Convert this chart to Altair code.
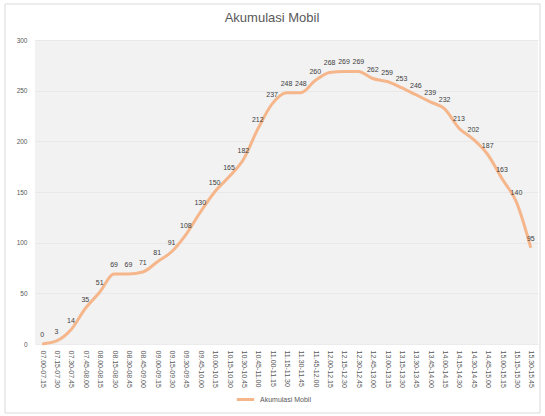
import altair as alt
import pandas as pd

# Parking accumulation per 15-minute interval
start_times = [
    "07.00", "07.15", "07.30", "07.45", "08.00", "08.15", "08.30", "08.45",
    "09.00", "09.15", "09.30", "09.45", "10.00", "10.15", "10.30", "10.45",
    "11.00", "11.15", "11.30", "11.45", "12.00", "12.15", "12.30", "12.45",
    "13.00", "13.15", "13.30", "13.45", "14.00", "14.15", "14.30", "14.45",
    "15.00", "15.15", "15.30",
]
end_times = start_times[1:] + ["15.45"]
intervals = [f"{a}-{b}" for a, b in zip(start_times, end_times)]

accumulation = [
    0, 3, 14, 35, 51, 69, 69, 71, 81, 91, 108, 130, 150, 165, 182, 212, 237,
    248, 248, 260, 268, 269, 269, 262, 259, 253, 246, 239, 232, 213, 202, 187,
    163, 140, 95,
]

series_name = "Akumulasi Mobil"
chart_title = "Akumulasi Mobil"

df = pd.DataFrame({
    "Interval": intervals,
    "Akumulasi": accumulation,
    "Seri": [series_name] * len(intervals),
})

LINE_COLOR = "#F5B68C"
TEXT_COLOR = "#595959"
FONT = "Liberation Sans"

x_enc = alt.X(
    "Interval:O",
    sort=None,
    title=None,
    axis=alt.Axis(
        labelAngle=90,
        labelFontSize=7,
        labelColor=TEXT_COLOR,
        labelFont=FONT,
        labelPadding=6,
        ticks=False,
        domain=False,
        grid=False,
        labelOverlap=False,
    ),
)
y_enc = alt.Y(
    "Akumulasi:Q",
    title=None,
    scale=alt.Scale(domain=[0, 300], nice=False),
    axis=alt.Axis(
        values=[0, 50, 100, 150, 200, 250, 300],
        labelFontSize=6.5,
        labelColor=TEXT_COLOR,
        labelFont=FONT,
        labelPadding=8,
        ticks=False,
        domain=False,
        gridColor="#E6E6E6",
        gridWidth=0.8,
    ),
)

base = alt.Chart(df)

line = base.mark_line(strokeWidth=3, interpolate="monotone").encode(
    x=x_enc,
    y=y_enc,
    color=alt.Color(
        "Seri:N",
        scale=alt.Scale(domain=[series_name], range=[LINE_COLOR]),
        legend=alt.Legend(
            title=None,
            orient="none",
            legendX=200,
            legendY=349,
            symbolType="stroke",
            symbolStrokeWidth=3,
            symbolSize=300,
            labelFontSize=7,
            labelColor=TEXT_COLOR,
            labelFont=FONT,
        ),
    ),
)

labels = base.mark_text(
    dy=-9, fontSize=7, color="#404040", font=FONT
).encode(x=x_enc, y=y_enc, text="Akumulasi:Q")

single = alt.Chart(pd.DataFrame({"k": [0]}))

# Light border around the whole chart area
frame = single.mark_rect(
    fill=None, stroke="#D9D9D9", strokeWidth=1
).encode(
    x=alt.value(-30), x2=alt.value(505),
    y=alt.value(-36), y2=alt.value(373),
)

# Chart heading, centred over the full canvas
heading = single.mark_text(
    fontSize=13, color=TEXT_COLOR, font=FONT, align="center", baseline="middle"
).encode(
    x=alt.value(237), y=alt.value(-22), text=alt.value(chart_title)
)

chart = (
    alt.layer(frame, heading, line, labels)
    .properties(
        width=503,
        height=304,
        autosize=alt.AutoSizeParams(type="none"),
        padding={"left": 35, "top": 40, "right": 7, "bottom": 72},
        background="white",
    )
    .configure_view(fill="#F2F2F2", stroke=None)
)

chart.save("out.html", embed_options={"renderer": "svg", "actions": False})
